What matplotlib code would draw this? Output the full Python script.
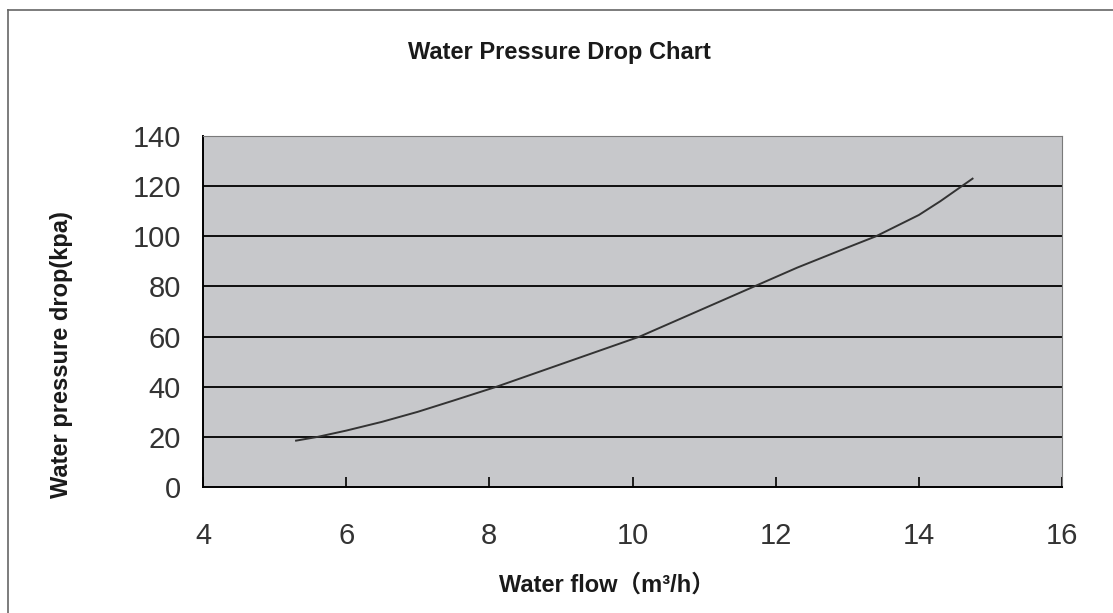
import matplotlib
matplotlib.use("Agg")
import matplotlib.pyplot as plt
from matplotlib.lines import Line2D

# data
flow = [5.3, 5.6, 6.0, 6.5, 7.0, 7.5, 8.1, 8.6, 9.2, 10.1, 10.9, 11.7,
        12.3, 13.0, 13.4, 14.0, 14.3, 14.6, 14.75]
pressure_drop = [18.5, 20, 22.5, 26, 30, 34.5, 40, 45, 51, 60, 70, 80,
                 87.5, 95.5, 100, 108.5, 114, 120, 123]
x_ticks = [4, 6, 8, 10, 12, 14, 16]
y_ticks = [0, 20, 40, 60, 80, 100, 120, 140]

plt.rcParams['font.family'] = ['Liberation Sans', 'Noto Sans CJK SC', 'DejaVu Sans']

fig = plt.figure(figsize=(11.13, 6.13), dpi=100)
ax = fig.add_axes([0.1824, 0.2055, 0.7718, 0.5726])
ax.set_facecolor('#c7c8cb')

for y in y_ticks[1:-1]:
    ax.axhline(y, color='black', linewidth=1.3, zorder=1)

ax.plot(flow, pressure_drop, color='#333333', linewidth=1.4, zorder=2)

ax.set_xlim(4, 16)
ax.set_ylim(0, 140)
ax.set_xticks(x_ticks)
ax.set_yticks(y_ticks)
ax.tick_params(axis='x', direction='in', length=7, width=1.2, color='black',
               pad=25, labelsize=21, labelcolor='#333333')
ax.tick_params(axis='y', length=0, pad=16, labelsize=21, labelcolor='#333333')

ax.spines['left'].set_color('black')
ax.spines['bottom'].set_color('black')
ax.spines['left'].set_linewidth(1.4)
ax.spines['bottom'].set_linewidth(1.4)
ax.spines['top'].set_color('#7a7a7a')
ax.spines['right'].set_color('#7a7a7a')

fig.text(559 / 1113, 1 - 53 / 613, 'Water Pressure Drop Chart', ha='center', va='center',
         fontsize=17, fontweight='bold', color='#1a1a1a')
fig.text(62 / 1113, 1 - 355 / 613, 'Water pressure drop(kpa)', ha='center', va='center',
         rotation=90, fontsize=17, fontweight='bold', color='#1a1a1a')
fig.text(607 / 1113, 1 - 585 / 613, 'Water flow（m³/h）', ha='center', va='center',
         fontsize=17, fontweight='bold', color='#1a1a1a')

# outer frame of the original sheet
fig.add_artist(Line2D([8 / 1113, 8 / 1113], [0, 1 - 10 / 613], color='#666666', linewidth=1.2))
fig.add_artist(Line2D([8 / 1113, 1], [1 - 10 / 613, 1 - 10 / 613], color='#666666', linewidth=1.2))

fig.savefig('out.png', dpi=100)
plt.close(fig)
